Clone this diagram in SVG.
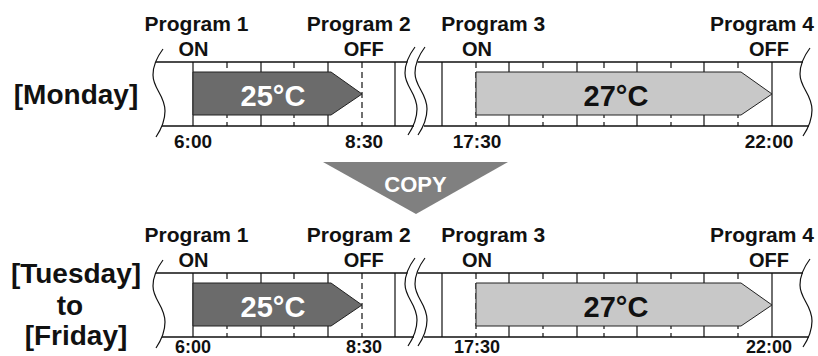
<svg xmlns="http://www.w3.org/2000/svg" xmlns:xlink="http://www.w3.org/1999/xlink" width="818" height="356" viewBox="0 0 818 356">
<style>
text{font-family:"Liberation Sans",Arial,sans-serif;font-weight:bold;fill:#111;text-anchor:middle}
.prog{font-size:21px}
.state{font-size:20px}
.time{font-size:19px}
.time2{font-size:18px}
.day{font-size:28px}
.temp{font-size:29px}
.copy{font-size:22px;fill:#fff}
.hl{stroke:#111;stroke-width:1.5;fill:none}
.vs{stroke:#111;stroke-width:1.2}
.vd{stroke:#111;stroke-width:1.2;stroke-dasharray:6,4}
.brk{stroke:#111;stroke-width:1.2;fill:none}
.dark{fill:#6b6b6b;stroke:#222;stroke-width:1}
.light{fill:#c8c8c8;stroke:#222;stroke-width:1}
</style>
<defs>
<path id="wave" d="M10,0 C4,8 0,16 0,26 C0,40 12,46 12,62 C12,74 7,82 3,88"/>
</defs>
<rect width="818" height="356" fill="#fff"/>

<g id="label-monday">
<text class="day" x="76" y="104">[Monday]</text>
</g>
<g id="label-weekdays">
<text class="day" x="76" y="283">[Tuesday]</text>
<text class="day" x="70" y="315">to</text>
<text class="day" x="76" y="345">[Friday]</text>
</g>

<g id="timeline-monday">
<path class="hl" d="M156,62 H407.5 M162,126 H414 M417.5,62 H803 M424,126 H809"/>
<use href="#wave" class="brk" transform="translate(153,49)"/>
<use href="#wave" class="brk" transform="translate(405,47)"/>
<use href="#wave" class="brk" transform="translate(415,47)"/>
<use href="#wave" class="brk" transform="translate(800,48)"/>
<path class="vs" d="M193,62V126 M261,62V126 M328,62V126 M395,62V126 M442,62V126 M509,62V126 M577,62V126 M637,62V126 M704,62V126 M772,62V126"/>
<path class="vd" d="M227,62V126 M294,62V126 M362,62V126 M476,62V126 M543,62V126 M604,62V126 M671,62V126 M738,62V126"/>
<polygon class="dark" points="193,72 331,72 362,94 331,115 193,115"/>
<polygon class="light" points="476,72 741,72 772,94 741,115 476,115"/>
<text class="temp" x="273" y="106" style="fill:#fff">25°C</text>
<text class="temp" x="616" y="106">27°C</text>
</g>

<g id="prog-monday">
<text class="prog" x="196.5" y="31">Program 1</text>
<text class="state" x="193.5" y="56">ON</text>
<text class="prog" x="358.7" y="31">Program 2</text>
<text class="state" x="363.7" y="56">OFF</text>
<text class="prog" x="493.3" y="31">Program 3</text>
<text class="state" x="477" y="56">ON</text>
<text class="prog" x="762" y="31">Program 4</text>
<text class="state" x="769" y="56">OFF</text>
<text class="time" x="193" y="147.5">6:00</text>
<text class="time" x="364" y="147.5">8:30</text>
<text class="time" x="477" y="147.5">17:30</text>
<text class="time" x="769" y="147.5">22:00</text>
</g>

<g id="timeline-weekdays" transform="translate(0,211)">
<path class="hl" d="M156,62 H407.5 M162,126 H414 M417.5,62 H803 M424,126 H809"/>
<use href="#wave" class="brk" transform="translate(153,49)"/>
<use href="#wave" class="brk" transform="translate(405,47)"/>
<use href="#wave" class="brk" transform="translate(415,47)"/>
<use href="#wave" class="brk" transform="translate(800,48)"/>
<path class="vs" d="M193,62V126 M261,62V126 M328,62V126 M395,62V126 M442,62V126 M509,62V126 M577,62V126 M637,62V126 M704,62V126 M772,62V126"/>
<path class="vd" d="M227,62V126 M294,62V126 M362,62V126 M476,62V126 M543,62V126 M604,62V126 M671,62V126 M738,62V126"/>
<polygon class="dark" points="193,72 331,72 362,94 331,115 193,115"/>
<polygon class="light" points="476,72 741,72 772,94 741,115 476,115"/>
<text class="temp" x="273" y="106" style="fill:#fff">25°C</text>
<text class="temp" x="616" y="106">27°C</text>
</g>

<g id="prog-weekdays" transform="translate(0,211)">
<text class="prog" x="196.5" y="31">Program 1</text>
<text class="state" x="193.5" y="56">ON</text>
<text class="prog" x="358.7" y="31">Program 2</text>
<text class="state" x="363.7" y="56">OFF</text>
<text class="prog" x="493.3" y="31">Program 3</text>
<text class="state" x="477" y="56">ON</text>
<text class="prog" x="762" y="31">Program 4</text>
<text class="state" x="769" y="56">OFF</text>
<text class="time2" x="193" y="141.5">6:00</text>
<text class="time2" x="364" y="141.5">8:30</text>
<text class="time2" x="477" y="141.5">17:30</text>
<text class="time2" x="769" y="141.5">22:00</text>
</g>

<g id="connectors">
<polygon points="323,162 508,162 416,214" fill="#808080"/>
<text class="copy" x="415.5" y="191.5">COPY</text>
</g>
</svg>
